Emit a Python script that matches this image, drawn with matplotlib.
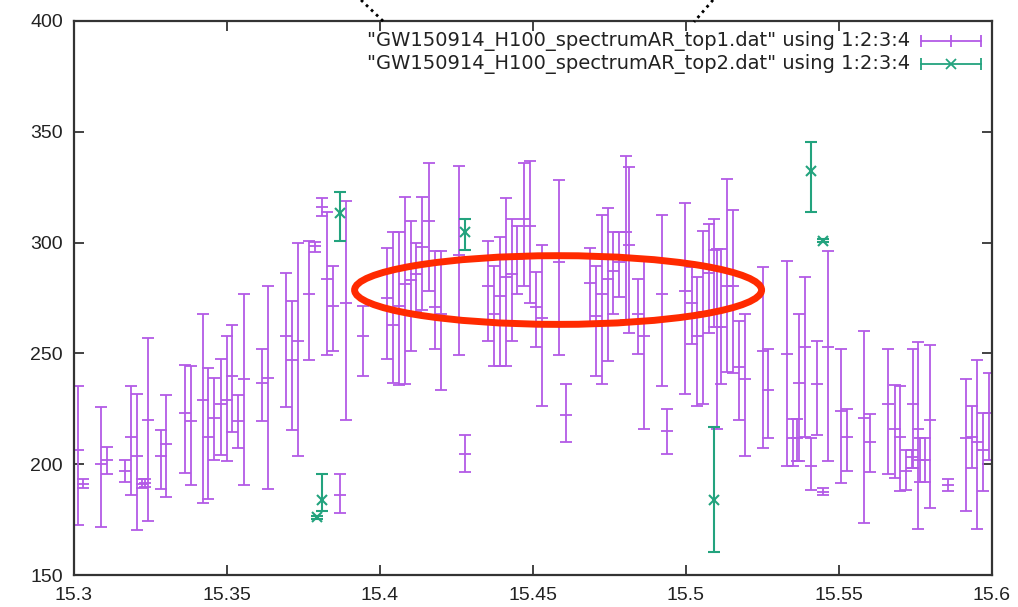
import matplotlib
matplotlib.use("Agg")
import matplotlib.pyplot as plt
from matplotlib.patches import Ellipse
from matplotlib.lines import Line2D

plt.rcParams['font.family'] = ['Liberation Sans', 'DejaVu Sans']

# top1 series: x, y, y_high, y_low
x1 = [15.3014, 15.3030, 15.3087, 15.3107, 15.3167, 15.3186, 15.3205, 15.3221, 15.3232, 15.3243,
      15.3283, 15.3301, 15.3363, 15.3381, 15.3421, 15.3439, 15.3458, 15.3480, 15.3499, 15.3516,
      15.3537, 15.3556, 15.3613, 15.3633, 15.3693, 15.3711, 15.3731, 15.3769, 15.3788, 15.3809,
      15.3828, 15.3847, 15.3869, 15.3889, 15.3945, 15.4024, 15.4043, 15.4063, 15.4082, 15.4100,
      15.4118, 15.4136, 15.4161, 15.4180, 15.4199, 15.4258, 15.4278, 15.4354, 15.4373, 15.4392,
      15.4412, 15.4430, 15.4449, 15.4471, 15.4490, 15.4510, 15.4530, 15.4585, 15.4608, 15.4686,
      15.4706, 15.4725, 15.4744, 15.4762, 15.4782, 15.4803, 15.4815, 15.4844, 15.4863, 15.4921,
      15.4939, 15.4997, 15.5019, 15.5037, 15.5057, 15.5076, 15.5092, 15.5100, 15.5116, 15.5135,
      15.5155, 15.5174, 15.5193, 15.5253, 15.5269, 15.5331, 15.5349, 15.5364, 15.5370, 15.5389,
      15.5407, 15.5427, 15.5449, 15.5465, 15.5506, 15.5525, 15.5582, 15.5601, 15.5661, 15.5683,
      15.5699, 15.5719, 15.5738, 15.5741, 15.5759, 15.5765, 15.5781, 15.5797, 15.5857, 15.5915,
      15.5934, 15.5952, 15.5972, 15.5991]
y1 = [206.6, 191.0, 199.9, 202.1, 197.0, 212.3, 203.6, 191.0, 191.5, 220.1,
      203.6, 209.3, 223.1, 219.5, 228.8, 212.3, 220.9, 227.3, 228.8, 239.6,
      219.5, 238.3, 236.8, 238.9, 257.8, 246.8, 255.5, 276.6, 298.6, 315.9,
      283.6, 271.6, 186.0, 272.8, 257.8, 275.1, 262.9, 271.6, 281.4, 283.3,
      285.9, 297.9, 309.9, 270.9, 267.9, 294.6, 204.4, 280.3, 267.9, 275.8,
      284.7, 285.9, 292.7, 310.7, 307.7, 270.9, 265.9, 291.1, 222.4, 281.7,
      267.1, 276.6, 283.6, 287.4, 291.1, 305.0, 299.1, 267.9, 257.8, 276.6,
      215.0, 278.1, 272.8, 257.8, 268.6, 286.2, 296.8, 261.8, 261.8, 280.3,
      280.3, 243.8, 238.3, 251.3, 233.3, 249.9, 211.6, 211.6, 236.8, 252.8,
      199.1, 236.0, 187.5, 252.8, 223.9, 212.3, 221.0, 210.0, 227.3, 215.8,
      212.3, 197.0, 203.3, 227.3, 215.8, 201.8, 201.8, 220.1, 190.5, 211.6,
      212.3, 210.0, 206.6, 223.3]
hi1 = [235.3, 193.2, 225.8, 207.8, 202.1, 235.3, 231.8, 193.2, 193.5, 257.1,
       215.3, 231.1, 244.9, 244.1, 267.9, 243.4, 238.9, 247.6, 257.8, 262.9,
       231.1, 276.6, 252.1, 280.2, 286.2, 273.6, 299.9, 300.5, 300.1, 320.1,
       313.7, 289.6, 195.5, 318.6, 271.6, 297.6, 305.0, 305.0, 320.7, 309.9,
       299.9, 320.7, 335.9, 296.1, 296.1, 334.4, 213.1, 300.5, 289.6, 302.7,
       320.0, 310.7, 307.7, 335.9, 336.6, 286.6, 299.0, 328.2, 236.0, 297.6,
       289.6, 312.5, 315.6, 305.0, 305.0, 338.9, 333.9, 283.6, 291.6, 312.6,
       225.1, 317.9, 289.2, 284.7, 305.1, 308.4, 310.7, 297.2, 297.2, 328.7,
       314.9, 264.5, 267.9, 288.9, 252.1, 291.9, 220.6, 220.6, 267.9, 284.4,
       211.6, 255.5, 189.2, 296.1, 252.1, 225.1, 259.9, 222.8, 252.1, 235.9,
       235.1, 206.6, 206.6, 252.1, 255.1, 211.6, 211.6, 254.0, 193.1, 238.3,
       226.1, 246.8, 223.3, 241.1]
lo1 = [172.5, 189.2, 171.7, 195.5, 191.9, 186.3, 170.3, 189.2, 189.5, 174.4,
       189.0, 185.3, 196.2, 190.5, 182.6, 184.1, 202.1, 204.0, 201.3, 214.4,
       207.1, 190.5, 219.4, 189.0, 225.8, 215.3, 203.6, 246.8, 295.6, 312.2,
       249.4, 251.0, 178.2, 220.1, 239.6, 247.4, 236.8, 235.6, 236.0, 251.3,
       268.6, 269.4, 278.1, 252.1, 233.3, 249.1, 196.3, 255.5, 244.3, 244.3,
       244.3, 255.5, 276.6, 280.3, 272.8, 252.8, 226.1, 249.1, 210.0, 264.1,
       239.6, 236.0, 246.4, 267.9, 275.4, 264.9, 259.3, 249.9, 215.8, 235.3,
       204.8, 231.8, 254.4, 226.1, 227.3, 259.3, 261.8, 215.8, 236.0, 241.4,
       241.3, 220.1, 203.6, 207.1, 211.6, 199.1, 199.1, 201.5, 201.5, 212.3,
       188.3, 213.1, 186.0, 201.3, 191.3, 197.0, 173.3, 196.3, 195.5, 193.8,
       188.0, 188.3, 198.5, 198.5, 170.6, 192.0, 192.0, 180.3, 187.8, 178.9,
       198.5, 170.6, 187.8, 201.8]

# top2 series
x2 = [15.3793, 15.3809, 15.3869, 15.4278, 15.5092, 15.5407, 15.5447]
y2 = [176.0, 183.8, 313.2, 305.0, 183.8, 332.1, 300.9]
hi2 = [176.8, 195.5, 322.7, 310.7, 216.7, 345.2, 301.5]
lo2 = [175.3, 179.0, 300.5, 296.8, 160.4, 313.7, 300.3]

labels = ['"GW150914_H100_spectrumAR_top1.dat" using 1:2:3:4',
          '"GW150914_H100_spectrumAR_top2.dat" using 1:2:3:4']

purple = '#b35ae6'
green = '#23a37e'

fig = plt.figure(figsize=(10.18, 6.07), dpi=100)
ax = fig.add_axes([74 / 1018, 1 - 575 / 607, 918 / 1018, 554 / 607])

err1 = [[y - l for y, l in zip(y1, lo1)], [h - y for y, h in zip(y1, hi1)]]
err2 = [[y - l for y, l in zip(y2, lo2)], [h - y for y, h in zip(y2, hi2)]]
ax.errorbar(x1, y1, yerr=err1, fmt='_', color=purple, ms=8, mew=1.3,
            elinewidth=1.3, capsize=4, capthick=1.3)
ax.errorbar(x2, y2, yerr=err2, fmt='x', color=green, ms=7, mew=1.5,
            elinewidth=1.5, capsize=4, capthick=1.5)

ax.set_xlim(15.3, 15.6)
ax.set_ylim(150, 400)
ax.set_xticks([15.3, 15.35, 15.4, 15.45, 15.5, 15.55, 15.6])
ax.set_xticklabels(['15.3', '15.35', '15.4', '15.45', '15.5', '15.55', '15.6'])
ax.set_yticks([150, 200, 250, 300, 350, 400])
ax.tick_params(direction='in', length=7, width=1.2, top=True, right=True,
               labelsize=14, colors='#222222')
ax.tick_params(axis='x', pad=9)
ax.tick_params(axis='y', pad=8)
for s in ax.spines.values():
    s.set_linewidth(1.6)
    s.set_color('#333333')

# gnuplot-style key at top right
for i, (lab, col) in enumerate(zip(labels, [purple, green])):
    yy = 0.964 - i * 0.041
    ax.text(0.911, yy, lab, transform=ax.transAxes, ha='right', va='center',
            fontsize=14, family='DejaVu Sans', color='#222222')
    ax.plot([0.923, 0.988], [yy, yy], transform=ax.transAxes, color=col, lw=1.3)
    ax.plot([0.923, 0.988], [yy, yy], transform=ax.transAxes, color=col, lw=0,
            marker='|', ms=9, mew=1.3)
    ax.plot([0.955], [yy], transform=ax.transAxes, color=col, lw=0,
            marker='|' if i == 0 else 'x', ms=9 if i == 0 else 7, mew=1.3)

# red ellipse annotation
ax.add_patch(Ellipse((15.4582, 278.6), 0.133, 31, fill=False,
                     edgecolor='#ff2a00', lw=5, clip_on=False, zorder=5))

# dotted zoom lines leaving the top edge
fig.add_artist(Line2D([361 / 1018, 384 / 1018], [1, 1 - 22 / 607], color='k',
                      ls=(0, (1, 1.5)), lw=2, transform=fig.transFigure))
fig.add_artist(Line2D([713 / 1018, 694 / 1018], [1, 1 - 22 / 607], color='k',
                      ls=(0, (1, 1.5)), lw=2, transform=fig.transFigure))

fig.savefig('out.png', dpi=100, facecolor='white')
